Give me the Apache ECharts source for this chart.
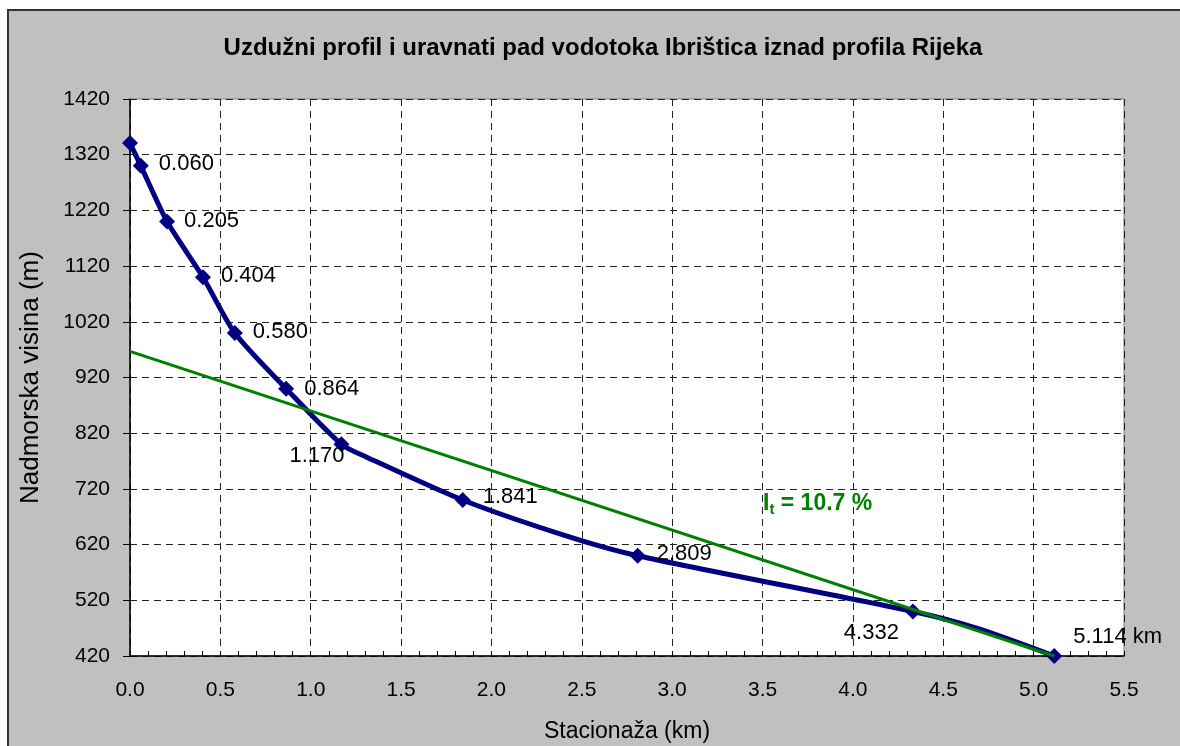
<!DOCTYPE html>
<html>
<head>
<meta charset="utf-8">
<script src="https://cdn.jsdelivr.net/npm/echarts@6/dist/echarts.min.js"></script>
<style>
  html, body { margin: 0; padding: 0; background: #ffffff; overflow: hidden; width: 1180px; height: 746px; }
  #frame { position: absolute; left: 7px; top: 9px; width: 1200px; height: 800px; background: #c0c0c0; border-left: 2px solid #333333; border-top: 2px solid #333333; }
  #chart { position: absolute; left: 0; top: 0; width: 1180px; height: 746px; }
</style>
</head>
<body>
<div id="frame"></div>
<div id="chart"></div>
<script>
// ---- data ----
const titleText = 'Uzdužni profil i uravnati pad vodotoka Ibrištica iznad profila Rijeka';
const xAxisName = 'Stacionaža (km)';
const yAxisName = 'Nadmorska visina (m)';
const stationKm  = [0, 0.060, 0.205, 0.404, 0.580, 0.864, 1.170, 1.31, 1.841, 2.40, 2.809, 4.332, 4.685, 5.114];
const elevationM = [1341, 1300, 1200, 1100, 1000, 900, 800, 777, 700, 637, 600, 500, 470, 420];
const markedPoint = [1, 1, 1, 1, 1, 1, 1, 0, 1, 0, 1, 1, 0, 1];
const pointLabels = ['', '0.060', '0.205', '0.404', '0.580', '0.864', '1.170', '', '1.841', '', '2.809', '4.332', '', '5.114 km'];
const trendKm   = [0, 5.114];
const trendElev = [967, 420];
const slopeSymbol = 'I';
const slopeSub = 't';
const slopeText = ' = 10.7 %';
const xMin = 0, xMax = 5.5, xStep = 0.5;
const yMin = 420, yMax = 1420, yStep = 100;

// ---- styles (label placement per point index) ----
const FONT = 'Liberation Sans, Arial, sans-serif';
const labelPlacement = {
  1: { position: 'right', distance: 10, offset: [0, -2] },
  2: { position: 'right', distance: 9, offset: [0, -1] },
  3: { position: 'right', distance: 10, offset: [0, -1] },
  4: { position: 'right', distance: 10, offset: [0, -1] },
  5: { position: 'right', distance: 10, offset: [0, 0] },
  6: { position: 'left', distance: 0, offset: [11, 12] },
  8: { position: 'right', distance: 12, offset: [0, -3] },
  10: { position: 'right', distance: 11, offset: [0, -2] },
  11: { position: 'left', distance: 0, offset: [-6, 21] },
  13: { position: 'right', distance: 11, offset: [0, -19] }
};

const profileData = stationKm.map((x, i) => {
  const item = { value: [x, elevationM[i]] };
  if (!markedPoint[i]) {
    item.symbol = 'none';
  }
  if (pointLabels[i]) {
    item.label = Object.assign({
      show: true,
      formatter: pointLabels[i],
      color: '#000000',
      fontFamily: FONT,
      fontSize: 22
    }, labelPlacement[i] || {});
  }
  return item;
});
const trendData = trendKm.map((x, i) => [x, trendElev[i]]);

const chart = echarts.init(document.getElementById('chart'), null, { renderer: 'canvas' });
const option = {
  backgroundColor: 'transparent',
  animation: false,
  title: {
    text: titleText,
    left: 598,
    textAlign: 'center',
    top: 31,
    textStyle: { fontFamily: FONT, fontSize: 24, fontWeight: 'bold', color: '#000000' }
  },
  grid: {
    left: 130, right: 56, top: 99, bottom: 90,
    outerBoundsMode: 'none',
    containLabel: false,
    show: true, backgroundColor: '#ffffff', borderColor: '#808080', borderWidth: 1
  },
  xAxis: {
    type: 'value', min: xMin, max: xMax, interval: xStep,
    name: xAxisName, nameLocation: 'middle', nameGap: 64,
    nameTextStyle: { fontFamily: FONT, fontSize: 23, color: '#000000' },
    axisLine: { show: true, onZero: false, lineStyle: { color: '#000000', width: 1.5 } },
    axisTick: { show: true, inside: true, length: 5, lineStyle: { color: '#000000' } },
    minorTick: { show: true, splitNumber: 5, length: 5, lineStyle: { color: '#000000' } },
    axisLabel: { fontFamily: FONT, fontSize: 21, color: '#000000', margin: 24, formatter: v => v.toFixed(1) },
    splitLine: { show: true, lineStyle: { color: '#222222', type: [7, 5], width: 1 } }
  },
  yAxis: {
    type: 'value', min: yMin, max: yMax, interval: yStep,
    name: yAxisName, nameLocation: 'middle', nameGap: 86, nameRotate: 90,
    nameTextStyle: { fontFamily: FONT, fontSize: 26, color: '#000000' },
    axisLine: { show: true, onZero: false, lineStyle: { color: '#000000', width: 1.5 } },
    axisTick: { show: true, inside: false, length: 7, lineStyle: { color: '#000000' } },
    axisLabel: { fontFamily: FONT, fontSize: 21, color: '#000000', margin: 20, formatter: v => String(v) },
    splitLine: { show: true, lineStyle: { color: '#222222', type: [7, 5], width: 1 } }
  },
  series: [
    {
      type: 'line',
      name: 'profil',
      data: profileData,
      smooth: 0.25,
      symbol: 'diamond',
      symbolSize: 16,
      showAllSymbol: true,
      lineStyle: { color: '#000080', width: 5 },
      itemStyle: { color: '#000080' },
      z: 3
    },
    {
      type: 'line',
      name: 'trend',
      data: trendData,
      symbol: 'none',
      lineStyle: { color: '#008000', width: 3 },
      z: 4
    }
  ],
  graphic: [
    {
      type: 'text',
      x: 763,
      y: 491,
      z: 10,
      style: {
        text: '{a|' + slopeSymbol + '}{b|' + slopeSub + '}{a|' + slopeText + '}',
        rich: {
          a: { fontFamily: FONT, fontSize: 23, fontWeight: 'bold', fill: '#008000', color: '#008000', lineHeight: 26, verticalAlign: 'middle' },
          b: { fontFamily: FONT, fontSize: 15, fontWeight: 'bold', fill: '#008000', color: '#008000', lineHeight: 15, verticalAlign: 'bottom' }
        }
      }
    }
  ]
};
chart.setOption(option);
</script>
</body>
</html>
